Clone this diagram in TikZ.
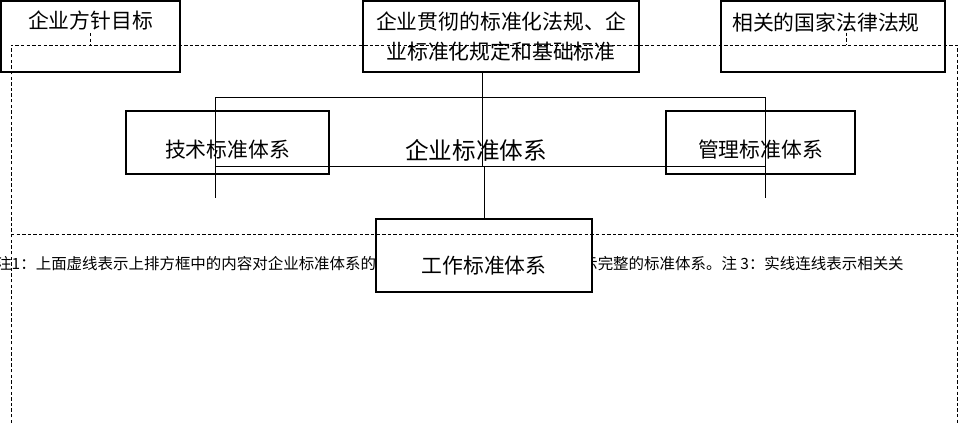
\documentclass[tikz,border=0pt]{standalone}
\usepackage{fontspec}
\setmainfont{Noto Sans CJK SC}
\usetikzlibrary{positioning}

\begin{document}
\begin{tikzpicture}[
  x=0.025cm, y=-0.025cm,
  font=\fontsize{14.8}{22}\selectfont,
  topbox/.style={
    draw, line width=1pt, inner sep=0pt,
    minimum height=1.775cm, align=center,
  },
  subbox/.style={
    draw, line width=0.8pt, inner sep=0pt,
    minimum height=1.575cm,
  },
  workbox/.style={
    draw, line width=1.4pt, inner sep=0pt, fill=white,
    minimum width=5.4cm, minimum height=1.825cm,
  },
  stdframe/.style={
    draw, line width=0.7pt, inner sep=0pt,
    minimum width=13.725cm, minimum height=1.725cm,
  },
  txt/.style={inner sep=0pt},
  link/.style={line width=0.7pt},
  guide/.style={line width=0.7pt, dash pattern=on 2.4pt off 1.6pt},
  note/.style={font=\fontsize{11}{13}\selectfont, inner sep=0pt, anchor=base west},
]
\useasboundingbox (0,0) rectangle (961,423);

% notes (partly hidden by the work box)
\node[note] (note1) at (-4,269) {注1：上面虚线表示上排方框中的内容对企业标准体系的};
\node[note] (note2) at (582,269) {示完整的标准体系。注 3：实线连线表示相关关};

% top row
\node[topbox, minimum width=4.475cm,
  label={[txt,yshift=11.7pt]center:企业方针目标}] (goal) at (90.5,36.5) {};
\node[topbox, minimum width=6.9cm] (rules) at (501,36.5)
  {企业贯彻的标准化法规、企\\业标准化规定和基础标准};
\node[topbox, minimum width=5.6cm,
  label={[txt,xshift=-5pt,yshift=10pt]center:相关的国家法律法规}] (law) at (833,36.5) {};

% middle row
\node[stdframe] (frame) at (490.5,131.5) {};
\node[txt, font=\fontsize{16.8}{20}\selectfont] (stdlbl) at (476,150) {企业标准体系};
\node[subbox, minimum width=5.075cm,
  label={[txt,yshift=-5.3pt]center:技术标准体系}] (tech) at (227.5,142.5) {};
\node[subbox, minimum width=4.725cm,
  label={[txt,yshift=-5.3pt]center:管理标准体系}] (mgmt) at (760.5,142.5) {};

% bottom
\node[workbox,
  label={[txt,yshift=-7pt]center:工作标准体系}] (work) at (484,255.5) {};

% solid links
\coordinate (j1) at (482,166);
\draw[link] (rules.south -| j1) -- (j1);
\draw[link] (work.north) -- (work.north |- frame.south);
\draw[link] (frame.south west) -- ++(0,31);
\draw[link] (frame.south east) -- ++(0,31);

% dashed bounds
\coordinate (dtl) at (11,45);
\coordinate (dtr) at (957,45);
\draw[guide] (11,423) -- (dtl) -- (dtr) -- (957,423);
\draw[guide] (11,234) -- (957,234);
\draw[guide] (90,33) -- (90,45);
\draw[guide] (846,27) -- (846,45);

\end{tikzpicture}
\end{document}
